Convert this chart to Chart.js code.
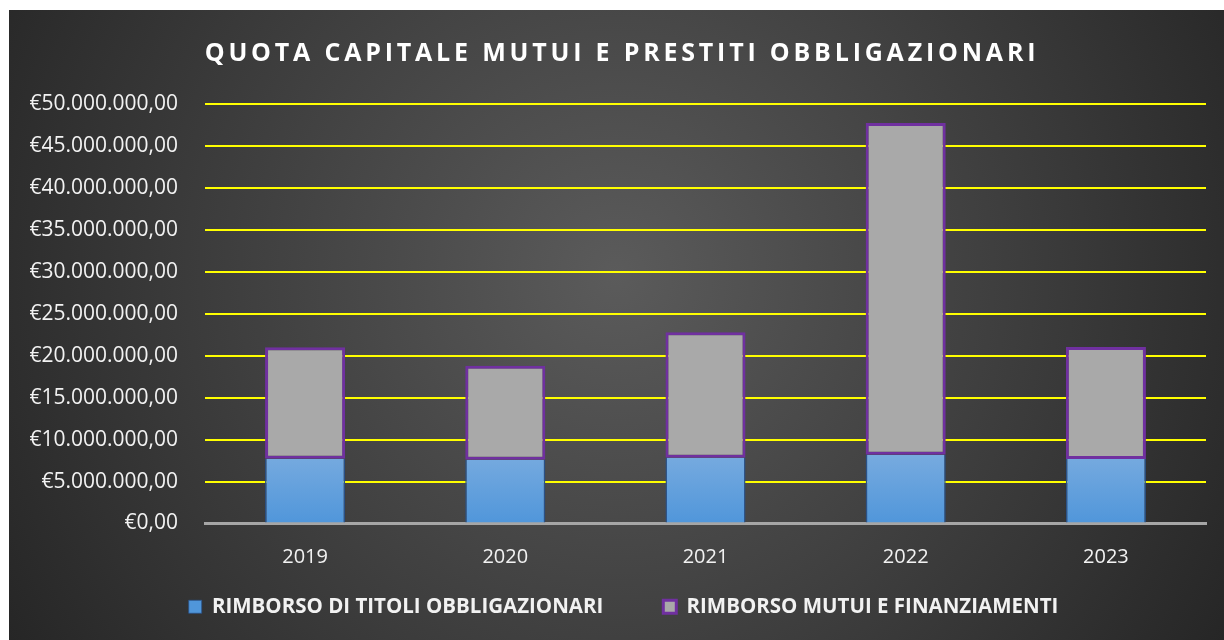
<!DOCTYPE html>
<html lang="it">
<head>
<meta charset="utf-8">
<title>Quota capitale mutui e prestiti obbligazionari</title>
<script src="https://cdn.jsdelivr.net/npm/chart.js@4.4.1/dist/chart.umd.min.js"></script>
<style>
  html, body { margin: 0; padding: 0; background: #ffffff; }
  #box {
    position: absolute; left: 9px; top: 10px; width: 1215px; height: 630px;
    background: radial-gradient(circle farthest-corner at 50% 42%, #5b5b5b 0%, #3e3e3e 55%, #262626 100%);
  }
  canvas { display: block; }
</style>
</head>
<body>
<div id="box"><canvas id="graf" width="1215" height="630"></canvas></div>
<script>
// anni e importi (euro)
var anni = ['2019', '2020', '2021', '2022', '2023'];
var titoliObbligazionari = [7720000, 7600000, 7840000, 8200000, 7700000];
var mutuiFinanziamenti = [13300000, 11200000, 14950000, 39550000, 13350000];
var tickMax = 50000000;
var tickStep = 5000000;
var titolo = 'QUOTA CAPITALE MUTUI E PRESTITI OBBLIGAZIONARI';

function euro(v) {
    var s = Math.round(v).toString().replace(/\B(?=(\d{3})+(?!\d))/g, '.');
    return '€' + s + ',00';
}

// gradiente azzurro per le barre in basso
function bluGrad(c) {
    var chart = c.chart;
    var area = chart.chartArea;
    if (!area) return '#5b9bd5';
    var y = chart.scales.y;
    var g = chart.ctx.createLinearGradient(0, y.getPixelForValue(8000000), 0, area.bottom);
    g.addColorStop(0, '#76aadf');
    g.addColorStop(1, '#5096da');
    return g;
}

// titolo con spaziatura tra le lettere
var titoloPlugin = {
    id: 'titolo',
    afterDraw: function (chart) {
        var ctx = chart.ctx;
        ctx.save();
        ctx.font = 'bold 25px "Open Sans"';
        ctx.letterSpacing = '3.8px';
        ctx.fillStyle = '#ffffff';
        ctx.textAlign = 'center';
        ctx.textBaseline = 'alphabetic';
        ctx.fillText(titolo, 613, 51);
        ctx.restore();
    }
};

// gli anni scendono nello spazio sopra la legenda, legenda un po' a destra
var ritocchi = {
    id: 'ritocchi',
    afterLayout: function (chart) {
        chart.scales.x.bottom = chart.legend.bottom;
        chart.legend.left += 16;
        chart.legend.right += 16;
    }
};

var ctx = document.getElementById('graf').getContext('2d');
var graf = new Chart(ctx, {
    type: 'bar',
    data: {
        labels: anni,
        datasets: [{
            label: 'RIMBORSO DI TITOLI OBBLIGAZIONARI',
            data: titoliObbligazionari,
            backgroundColor: bluGrad,
            borderColor: '#2a5288',
            borderWidth: {left: 1.5, right: 1.5, top: 0, bottom: 0},
            borderSkipped: false,
            barPercentage: 0.4,
            categoryPercentage: 1
        }, {
            label: 'RIMBORSO MUTUI E FINANZIAMENTI',
            data: mutuiFinanziamenti,
            backgroundColor: '#a9a9a9',
            borderColor: '#7030a0',
            borderWidth: 3,
            borderSkipped: false,
            barPercentage: 0.4,
            categoryPercentage: 1
        }]
    },
    options: {
        responsive: false,
        animation: false,
        layout: {
            padding: {top: 94, right: 18, bottom: 13, left: 0}
        },
        scales: {
            x: {
                stacked: true,
                afterFit: function (scale) { scale.height = 13; },
                grid: {display: false, tickLength: 22},
                border: {color: '#a6a6a6', width: 3},
                ticks: {
                    color: '#f2f2f2',
                    padding: 0,
                    font: {family: 'Open Sans', size: 20}
                }
            },
            y: {
                stacked: true,
                min: 0,
                max: tickMax,
                afterFit: function (scale) { scale.width = 196; },
                border: {display: false},
                grid: {
                    drawTicks: false,
                    lineWidth: 2,
                    color: function (c) { return c.tick.value === 0 ? '#a6a6a6' : '#ffff00'; }
                },
                ticks: {
                    stepSize: tickStep,
                    padding: 27,
                    color: '#f2f2f2',
                    font: {family: 'Open Sans', size: 21},
                    callback: function (v) { return euro(v); }
                }
            }
        },
        plugins: {
            title: {display: false},
            tooltip: {enabled: false},
            legend: {
                position: 'bottom',
                labels: {
                    color: '#f2f2f2',
                    boxWidth: 13,
                    boxHeight: 13,
                    padding: 60,
                    font: {family: 'Open Sans', size: 20.5, weight: 'bold'}
                }
            }
        }
    },
    plugins: [titoloPlugin, ritocchi]
});
</script>
</body>
</html>
